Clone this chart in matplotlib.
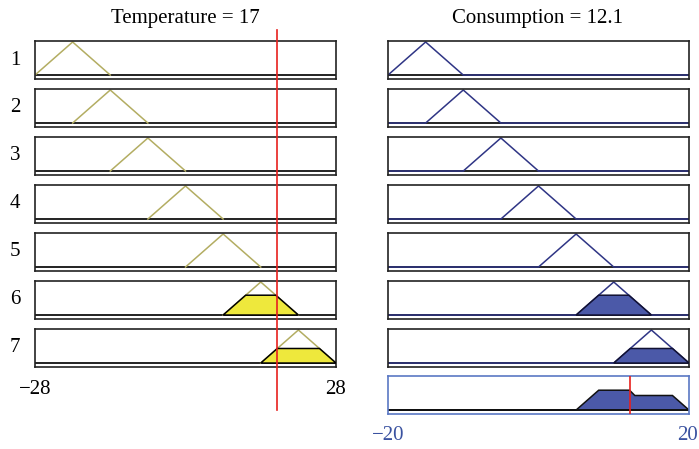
import numpy as np
import matplotlib.pyplot as plt
from matplotlib import transforms

# fuzzy rule viewer: input temperature, output consumption
temp_lim = (-28, 28)
temp_centers = [-21, -14, -7, 0, 7, 14, 21]
temp_half = 7
cons_lim = (-20, 20)
cons_centers = [-15, -10, -5, 0, 5, 10, 15]
cons_half = 5
rule_labels = ["1", "2", "3", "4", "5", "6", "7"]
rule_strength = [0, 0, 0, 0, 0, 0.6, 0.44]
temperature = 17
consumption = 12.1
# aggregated output set
agg_x = [-20, 5, 8, 12.1, 12.8, 17.8, 20]
agg_y = [0, 0, 0.6, 0.6, 0.44, 0.44, 0]

W, H = 699, 449
fig = plt.figure(figsize=(W / 100, H / 100), dpi=100)
plt.rcParams['font.family'] = ['Liberation Serif', 'DejaVu Serif']

olive = '#b3ad62'
yellow = '#eee83c'
navy = '#2f3585'
blue_fill = '#4b59a8'
out_blue = '#5a78c4'
label_blue = '#3a52a0'

YMIN, YMAX = -0.12, 1.03
FS = 15


def box(x0, top, w, h):
    ax = fig.add_axes([x0 / W, 1 - (top + h) / H, w / W, h / H])
    ax.set_xticks([])
    ax.set_yticks([])
    ax.set_ylim(YMIN, YMAX)
    for s in ax.spines.values():
        s.set_linewidth(1.2)
        s.set_color('#222222')
    return ax


left_axes = []
for i, c in enumerate(temp_centers):
    top = 41 + 48 * i
    # input membership functions
    ax = box(35, top, 301, 38)
    ax.set_xlim(*temp_lim)
    ax.axhline(0, color='#111111', lw=1.3)
    ax.plot([c - temp_half, c, c + temp_half], [0, 1, 0], color=olive, lw=1.1)
    s = rule_strength[i]
    if s > 0:
        ax.fill([c - temp_half, c - temp_half * (1 - s), c + temp_half * (1 - s), c + temp_half],
                [0, s, s, 0], facecolor=yellow, edgecolor='black', lw=1.1, zorder=3)
    fig.text(15 / W, 1 - (top + 19) / H, rule_labels[i], fontsize=FS,
             ha='center', va='center')
    left_axes.append(ax)

    # output membership functions
    c2 = cons_centers[i]
    ax2 = box(388, top, 301, 38)
    ax2.set_xlim(*cons_lim)
    ax2.axhline(0, color='#111111', lw=1.3)
    ax2.plot([cons_lim[0], c2 - cons_half, c2, c2 + cons_half, cons_lim[1]],
             [0, 0, 1, 0, 0], color=navy, lw=1.1)
    if s > 0:
        ax2.fill([c2 - cons_half, c2 - cons_half * (1 - s), c2 + cons_half * (1 - s), c2 + cons_half],
                 [0, s, s, 0], facecolor=blue_fill, edgecolor='#111133', lw=1.1, zorder=3)

# aggregated output
axo = box(388, 376, 301, 38)
axo.set_xlim(*cons_lim)
for sp in axo.spines.values():
    sp.set_color(out_blue)
axo.fill(agg_x, agg_y, facecolor=blue_fill, edgecolor='#111111', lw=1.1)
axo.axhline(0, color='#111111', lw=1.3)
axo.axvline(consumption, color='#e8201e', lw=1.2, zorder=4)

# input line across all rule rows
tr = transforms.blended_transform_factory(left_axes[0].transData, fig.transFigure)
fig.add_artist(plt.Line2D([temperature, temperature], [1 - 30 / H, 1 - 410 / H],
                          transform=tr, color='#e8201e', lw=1.2, zorder=10))

fig.text(185 / W, 1 - 18 / H, f"Temperature = {temperature}", fontsize=FS,
         ha='center', va='center')
fig.text(538 / W, 1 - 18 / H, f"Consumption = {consumption}", fontsize=FS,
         ha='center', va='center')

fig.text(35 / W, 1 - 390 / H, "\u221228", fontsize=FS, ha='center', va='center')
fig.text(336 / W, 1 - 390 / H, "28", fontsize=FS, ha='center', va='center')
fig.text(388 / W, 1 - 436 / H, "\u221220", fontsize=FS, ha='center', va='center',
         color=label_blue)
fig.text(688 / W, 1 - 436 / H, "20", fontsize=FS, ha='center', va='center',
         color=label_blue)

fig.savefig('out.png', dpi=100)
